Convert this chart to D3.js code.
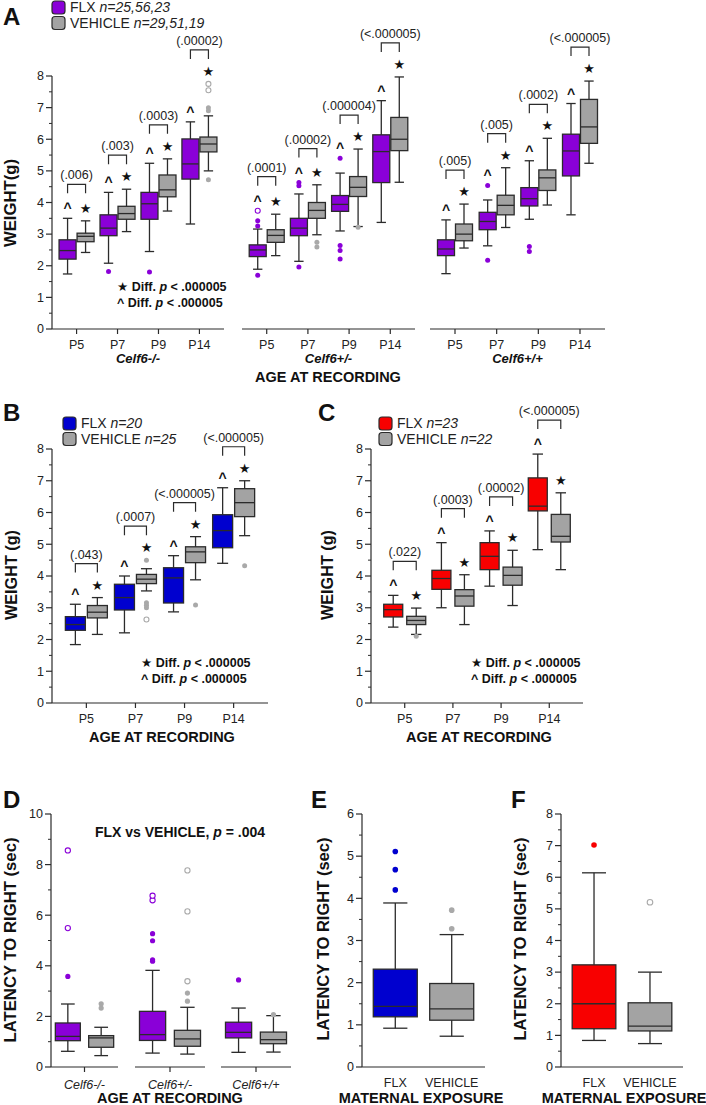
<!DOCTYPE html>
<html>
<head>
<meta charset="utf-8">
<script src="https://cdn.jsdelivr.net/npm/d3@7"></script>
<style>
  body { margin: 0; background: #fff; }
  svg { display: block; }
</style>
</head>
<body>
<svg id="fig" width="706" height="1105"></svg>
<script>
// ---- data ----
var ageLabels = ["P5", "P7", "P9", "P14"];
var genoLabels = ["Celf6-/-", "Celf6+/-", "Celf6+/+"];
var bracketLabelsA = [
    ["(.006)", "(.003)", "(.0003)", "(.00002)"],
    ["(.0001)", "(.00002)", "(.000004)", "(<.000005)"],
    ["(.005)", "(.005)", "(.0002)", "(<.000005)"]
];
// [low whisker, q1, median, q3, high whisker] per genotype, per age
var aFlx = [
    [[1.74, 2.21, 2.48, 2.82, 3.5], [2.08, 2.95, 3.19, 3.61, 4.32], [2.45, 3.47, 3.96, 4.32, 5.24], [3.32, 4.74, 5.22, 6.01, 6.55]],
    [[1.89, 2.29, 2.5, 2.66, 3.16], [2.14, 2.95, 3.19, 3.5, 4.27], [3.1, 3.72, 3.94, 4.22, 4.93], [3.37, 4.63, 5.61, 6.14, 7.22]],
    [[1.75, 2.32, 2.53, 2.82, 3.45], [2.63, 3.14, 3.4, 3.69, 4.08], [3.47, 3.89, 4.12, 4.47, 5.32], [3.61, 4.84, 5.63, 6.16, 7.13]]
];
var aVeh = [
    [[2.42, 2.76, 2.93, 3.03, 3.42], [3.08, 3.47, 3.65, 3.88, 4.42], [3.73, 4.18, 4.4, 4.87, 5.38], [5.0, 5.6, 5.85, 6.07, 6.74]],
    [[2.32, 2.74, 2.96, 3.14, 3.63], [2.98, 3.5, 3.75, 4.0, 4.56], [3.24, 4.19, 4.48, 4.82, 5.69], [4.64, 5.64, 6.0, 6.69, 7.97]],
    [[2.56, 2.79, 3.0, 3.32, 3.95], [3.21, 3.61, 3.91, 4.23, 5.1], [3.92, 4.38, 4.78, 5.03, 6.03], [5.24, 5.87, 6.39, 7.26, 7.84]]
];
// outliers: [genotype, age, group(0 flx / 1 vehicle), value, open]
var aOut = [
    [0, 1, 0, 1.82, 0], [0, 2, 0, 1.8, 0], [0, 3, 1, 4.72, 0], [0, 3, 1, 6.9, 0], [0, 3, 1, 7.0, 0], [0, 3, 1, 7.55, 1], [0, 3, 1, 7.75, 1],
    [1, 0, 0, 1.7, 0], [1, 0, 0, 3.26, 0], [1, 0, 0, 3.42, 0], [1, 0, 0, 3.74, 1], [1, 1, 0, 1.96, 0], [1, 1, 0, 4.53, 0], [1, 1, 0, 4.63, 0],
    [1, 1, 1, 2.59, 0], [1, 1, 1, 2.74, 0], [1, 2, 0, 2.21, 0], [1, 2, 0, 2.48, 0], [1, 2, 0, 2.64, 0], [1, 2, 0, 5.4, 0], [1, 2, 1, 3.22, 0],
    [2, 1, 0, 2.17, 0], [2, 1, 0, 4.54, 0], [2, 2, 0, 2.45, 0], [2, 2, 0, 2.61, 0]
];

var bracketLabelsB = ["(.043)", "(.0007)", "(<.000005)", "(<.000005)"];
var bFlx = [[1.84, 2.29, 2.47, 2.72, 3.11], [2.21, 2.93, 3.32, 3.74, 4.0], [2.87, 3.15, 3.94, 4.26, 4.64], [4.4, 4.89, 5.43, 5.93, 6.78]];
var bVeh = [[2.16, 2.68, 2.86, 3.07, 3.32], [3.53, 3.76, 3.9, 4.05, 4.23], [3.88, 4.42, 4.76, 4.92, 5.24], [5.27, 5.87, 6.31, 6.75, 7.0]];
// outliers: [age, group, value, open]
var bOut = [[1, 1, 4.5, 0], [1, 1, 3.16, 0], [1, 1, 3.08, 0], [1, 1, 3.0, 0], [1, 1, 2.63, 1], [2, 1, 3.09, 0], [3, 1, 4.32, 0]];

var bracketLabelsC = ["(.022)", "(.0003)", "(.00002)", "(<.000005)"];
var cFlx = [[2.39, 2.71, 2.94, 3.11, 3.39], [3.0, 3.58, 3.92, 4.18, 5.05], [3.68, 4.2, 4.62, 5.05, 5.42], [4.83, 6.05, 6.2, 7.09, 7.84]];
var cVeh = [[2.16, 2.47, 2.6, 2.73, 2.99], [2.47, 3.05, 3.37, 3.57, 4.04], [3.07, 3.71, 4.02, 4.28, 4.81], [4.2, 5.07, 5.25, 5.94, 6.62]];
var cOut = [[0, 1, 2.1, 0]];

var dFlx = [[0.62, 1.04, 1.21, 1.74, 2.49], [0.55, 1.05, 1.28, 2.2, 3.82], [0.58, 1.15, 1.37, 1.77, 2.33]];
var dVeh = [[0.45, 0.78, 1.15, 1.24, 1.57], [0.51, 0.82, 1.11, 1.45, 2.36], [0.59, 0.92, 1.08, 1.38, 2.03]];
// outliers: [genotype, group, value, open]
var dOut = [
    [0, 0, 3.58, 0], [0, 0, 5.49, 1], [0, 0, 8.56, 1], [0, 1, 2.33, 0], [0, 1, 2.5, 0],
    [1, 0, 4.18, 0], [1, 0, 4.24, 0], [1, 0, 4.99, 0], [1, 0, 5.27, 0], [1, 0, 6.59, 1], [1, 0, 6.77, 1],
    [1, 1, 2.6, 0], [1, 1, 2.92, 0], [1, 1, 3.39, 1], [1, 1, 6.15, 1], [1, 1, 7.77, 1],
    [2, 0, 3.44, 0], [2, 1, 2.07, 0]
];

var exposure = ["FLX", "VEHICLE"];
var eStats = [[0.92, 1.19, 1.44, 2.32, 3.89], [0.73, 1.11, 1.38, 1.98, 3.14]];
var eOut = [[0, 4.2, 0], [0, 4.68, 0], [0, 5.11, 0], [1, 3.28, 0], [1, 3.72, 0]];
var fStats = [[0.84, 1.21, 2.0, 3.23, 6.14], [0.74, 1.14, 1.29, 2.03, 3.0]];
var fOut = [[0, 7.02, 0], [1, 5.21, 1]];

// ---- style ----
var FONT = "'Liberation Sans', Arial, Helvetica, sans-serif";
var PURPLE = "#8a00d8";
var BLUE = "#0000cf";
var RED = "#f80000";
var GRAY = "#a3a3a3";
var GRAY_PT = "#a9a9a9";
var INK = "#2b2b2b";

var svg = d3.select("#fig");

function txt(g, x, y, s, size, opts) {
    opts = opts || {};
    var t = g.append("text").attr("x", x).attr("y", y)
        .attr("font-family", FONT).attr("font-size", size)
        .attr("fill", opts.fill || "#111")
        .attr("text-anchor", opts.anchor || "middle")
        .text(s);
    if (opts.bold) t.attr("font-weight", "bold");
    if (opts.italic) t.attr("font-style", "italic");
    return t;
}

function yAxis(g, y, x0, majors, minors, fmt) {
    var r = y.range();
    g.append("line").attr("x1", x0).attr("x2", x0).attr("y1", r[0]).attr("y2", r[1])
        .attr("stroke", INK).attr("stroke-width", 1.2);
    minors.forEach(function (v) {
        g.append("line").attr("x1", x0 - 3).attr("x2", x0).attr("y1", y(v)).attr("y2", y(v))
            .attr("stroke", INK).attr("stroke-width", 1);
    });
    majors.forEach(function (v) {
        g.append("line").attr("x1", x0 - 6).attr("x2", x0).attr("y1", y(v)).attr("y2", y(v))
            .attr("stroke", INK).attr("stroke-width", 1.2);
        txt(g, x0 - 8, y(v) + 4.3, fmt ? fmt(v) : v, 12.5, {anchor: "end", fill: "#222"});
    });
}

function yTitle(g, x, cy, s, len) {
    g.append("text").attr("transform", "translate(" + x + "," + cy + ") rotate(-90)")
        .attr("font-family", FONT).attr("font-size", 16.5).attr("font-weight", "bold")
        .attr("text-anchor", "middle").attr("textLength", len).attr("lengthAdjust", "spacingAndGlyphs")
        .attr("fill", "#111").text(s);
}

function box(g, y, cx, w, s, fill) {
    var cap = w * 0.55;
    var gg = g.append("g");
    gg.append("line").attr("x1", cx).attr("x2", cx).attr("y1", y(s[0])).attr("y2", y(s[4]))
        .attr("stroke", INK).attr("stroke-width", 1.3);
    [s[0], s[4]].forEach(function (v) {
        gg.append("line").attr("x1", cx - cap / 2).attr("x2", cx + cap / 2).attr("y1", y(v)).attr("y2", y(v))
            .attr("stroke", INK).attr("stroke-width", 1.3);
    });
    gg.append("rect").attr("x", cx - w / 2).attr("y", y(s[3])).attr("width", w)
        .attr("height", y(s[1]) - y(s[3])).attr("fill", fill)
        .attr("stroke", INK).attr("stroke-width", 1.3);
    gg.append("line").attr("x1", cx - w / 2).attr("x2", cx + w / 2).attr("y1", y(s[2])).attr("y2", y(s[2]))
        .attr("stroke", INK).attr("stroke-width", 1.3);
}

function dot(g, cx, cy, col, open, r) {
    g.append("circle").attr("cx", cx).attr("cy", cy).attr("r", r || 2.5)
        .attr("fill", open ? "#fff" : col).attr("stroke", col).attr("stroke-width", open ? 1.1 : 0);
}

// caret / star + bracket above a pair of boxes
function marks(g, y, xF, xV, topF, topV, label) {
    var yc = y(topF) - 13, ys = y(topV) - 13;
    txt(g, xF, yc + 8, "^", 14, {bold: true});
    g.append("text").attr("x", xV).attr("y", ys + 5).attr("text-anchor", "middle")
        .attr("font-family", "'DejaVu Sans', sans-serif").attr("font-size", 13).attr("fill", "#111").text("\u2605");
    var yb = Math.min(yc, ys) - 21;
    g.append("path").attr("d", "M" + xF + "," + (yb + 9) + "V" + yb + "H" + xV + "V" + (yb + 9))
        .attr("fill", "none").attr("stroke", INK).attr("stroke-width", 1.2);
    txt(g, (xF + xV) / 2, yb - 5, label, 12.5, {fill: "#222"});
}

function topOf(stats, outs) {
    return d3.max([stats[4]].concat(outs));
}

function diffNote(g, x, y0) {
    [["\u2605", y0], ["^", y0 + 16]].forEach(function (d, i) {
        var t = g.append("text").attr("x", x).attr("y", d[1]).attr("font-family", FONT)
            .attr("font-size", 12.5).attr("font-weight", "bold").attr("fill", "#111");
        if (i === 0) t.append("tspan").attr("font-family", "'DejaVu Sans', sans-serif").text(d[0]);
        else t.append("tspan").text(d[0]);
        t.append("tspan").text(" Diff. ");
        t.append("tspan").attr("font-style", "italic").text("p");
        t.append("tspan").text(" < .000005");
    });
}

function legend(g, x, y, col, label, n) {
    [[col, label[0], n[0]], [GRAY, label[1], n[1]]].forEach(function (d, i) {
        var yy = y + i * 15.5;
        g.append("rect").attr("x", x).attr("y", yy).attr("width", 13).attr("height", 13).attr("rx", 3)
            .attr("fill", d[0]).attr("stroke", INK).attr("stroke-width", 1.2);
        var t = g.append("text").attr("x", x + 18).attr("y", yy + 11).attr("font-family", FONT)
            .attr("font-size", 14).attr("fill", "#222");
        t.append("tspan").text(d[1] + " ");
        t.append("tspan").attr("font-style", "italic").text(d[2]);
    });
}

function panelLetter(x, y, s) {
    txt(svg, x, y, s, 24, {bold: true, anchor: "start"});
}

var halfTicks = d3.range(0, 8.01, 0.5).filter(function (v) { return v % 1 !== 0; });

// ================= Panel A =================
(function () {
    var g = svg.append("g");
    var y = d3.scaleLinear().domain([0, 8]).range([329, 76]);
    var x0 = 52;
    var groups = [[52, 224], [242, 415], [430, 605]];
    var half = 9;

    panelLetter(3, 25, "A");
    legend(g, 52, 1, PURPLE, ["FLX", "VEHICLE"], ["n=25,56,23", "n=29,51,19"]);
    yAxis(g, y, x0, d3.range(0, 9), halfTicks);
    yTitle(g, 16, 203, "WEIGHT(g)", 88);

    groups.forEach(function (rng, gi) {
        var x = d3.scalePoint().domain(ageLabels).range(rng).padding(0.6);
        g.append("line").attr("x1", rng[0]).attr("x2", rng[1]).attr("y1", 329).attr("y2", 329)
            .attr("stroke", INK).attr("stroke-width", 1.2);
        ageLabels.forEach(function (a, ai) {
            var cx = x(a);
            g.append("line").attr("x1", cx).attr("x2", cx).attr("y1", 329).attr("y2", 334)
                .attr("stroke", INK).attr("stroke-width", 1.2);
            txt(g, cx, 349, a, 12.5, {fill: "#222"});
            var outs = aOut.filter(function (o) { return o[0] === gi && o[1] === ai; });
            var xf = cx - half, xv = cx + half;
            box(g, y, xf, 17, aFlx[gi][ai], PURPLE);
            box(g, y, xv, 17, aVeh[gi][ai], GRAY);
            outs.forEach(function (o) {
                dot(g, o[2] ? xv : xf, y(o[3]), o[2] ? GRAY_PT : PURPLE, o[4]);
            });
            marks(g, y, xf, xv,
                topOf(aFlx[gi][ai], outs.filter(function (o) { return o[2] === 0; }).map(function (o) { return o[3]; })),
                topOf(aVeh[gi][ai], outs.filter(function (o) { return o[2] === 1; }).map(function (o) { return o[3]; })),
                bracketLabelsA[gi][ai]);
        });
        txt(g, (x(ageLabels[0]) + x(ageLabels[3])) / 2, 363, genoLabels[gi], 13, {bold: true, italic: true});
    });
    txt(g, 328, 382, "AGE AT RECORDING", 14.5, {bold: true});
    diffNote(g, 117, 291);
})();

// ================= Panels B and C =================
function weightPanel(opt) {
    var g = svg.append("g");
    var y = d3.scaleLinear().domain([0, 8]).range([703, 449]);
    var x = d3.scalePoint().domain(ageLabels).range(opt.range).padding(0.7);
    panelLetter(opt.letterX, 421, opt.letter);
    legend(g, opt.legX, 417, opt.col, ["FLX", "VEHICLE"], opt.n);
    yAxis(g, y, opt.range[0], d3.range(0, 9), halfTicks);
    yTitle(g, opt.titleX, 575, "WEIGHT (g)", 90);
    g.append("line").attr("x1", opt.range[0]).attr("x2", opt.range[1]).attr("y1", 703).attr("y2", 703)
        .attr("stroke", INK).attr("stroke-width", 1.2);
    ageLabels.forEach(function (a, ai) {
        var cx = x(a);
        g.append("line").attr("x1", cx).attr("x2", cx).attr("y1", 703).attr("y2", 708)
            .attr("stroke", INK).attr("stroke-width", 1.2);
        txt(g, cx, 723, a, 12.5, {fill: "#222"});
        var outs = opt.outs.filter(function (o) { return o[0] === ai; });
        var xf = cx - opt.half, xv = cx + opt.half;
        box(g, y, xf, opt.w, opt.flx[ai], opt.col);
        box(g, y, xv, opt.w, opt.veh[ai], GRAY);
        outs.forEach(function (o) {
            dot(g, o[1] ? xv : xf, y(o[2]), o[1] ? GRAY_PT : opt.col, o[3]);
        });
        marks(g, y, xf, xv,
            topOf(opt.flx[ai], outs.filter(function (o) { return o[1] === 0; }).map(function (o) { return o[2]; })),
            topOf(opt.veh[ai], outs.filter(function (o) { return o[1] === 1; }).map(function (o) { return o[2]; })),
            opt.labels[ai]);
    });
    txt(g, (opt.range[0] + opt.range[1]) / 2 + 2, 742, "AGE AT RECORDING", 14.5, {bold: true});
    diffNote(g, opt.noteX, 667);
}

weightPanel({letter: "B", letterX: 3, range: [52, 268], legX: 63, col: BLUE, n: ["n=20", "n=25"],
    titleX: 17, w: 20, half: 11, flx: bFlx, veh: bVeh, outs: bOut, labels: bracketLabelsB, noteX: 141});
weightPanel({letter: "C", letterX: 318, range: [371, 583], legX: 379, col: RED, n: ["n=23", "n=22"],
    titleX: 333, w: 19, half: 11.5, flx: cFlx, veh: cVeh, outs: cOut, labels: bracketLabelsC, noteX: 471});

// ================= Panel D =================
(function () {
    var g = svg.append("g");
    var y = d3.scaleLinear().domain([0, 10]).range([1067, 814]);
    var segs = [[51, 118], [135, 205], [221, 291]];
    panelLetter(3, 808, "D");
    yAxis(g, y, 51, [0, 2, 4, 6, 8, 10], [1, 3, 5, 7, 9]);
    yTitle(g, 16, 940, "LATENCY TO RIGHT (sec)", 205);
    var t = g.append("text").attr("x", 180).attr("y", 837).attr("text-anchor", "middle")
        .attr("font-family", FONT).attr("font-size", 14).attr("font-weight", "bold").attr("fill", "#111");
    t.append("tspan").text("FLX vs VEHICLE, ");
    t.append("tspan").attr("font-style", "italic").text("p");
    t.append("tspan").text(" = .004");
    segs.forEach(function (s, gi) {
        var x = d3.scaleBand().domain(["FLX", "VEHICLE"]).range([s[0] + 1, s[1] - 1]).paddingInner(0.25).paddingOuter(0.1);
        var mid = (x("FLX") + x("VEHICLE") + x.bandwidth()) / 2;
        g.append("line").attr("x1", s[0]).attr("x2", s[1]).attr("y1", 1067).attr("y2", 1067)
            .attr("stroke", INK).attr("stroke-width", 1.2);
        g.append("line").attr("x1", mid).attr("x2", mid).attr("y1", 1067).attr("y2", 1072)
            .attr("stroke", INK).attr("stroke-width", 1.2);
        txt(g, mid, 1089, genoLabels[gi], 12.5, {italic: true, fill: "#222"});
        var xf = x("FLX") + x.bandwidth() / 2, xv = x("VEHICLE") + x.bandwidth() / 2;
        box(g, y, xf, x.bandwidth(), dFlx[gi], PURPLE);
        box(g, y, xv, x.bandwidth(), dVeh[gi], GRAY);
        dOut.filter(function (o) { return o[0] === gi; }).forEach(function (o) {
            dot(g, o[1] ? xv : xf, y(o[2]), o[1] ? GRAY_PT : PURPLE, o[3], 2.6);
        });
    });
    txt(g, 170, 1103, "AGE AT RECORDING", 14.5, {bold: true});
})();

// ================= Panels E and F =================
function latencyPanel(opt) {
    var g = svg.append("g");
    var y = d3.scaleLinear().domain([0, opt.max]).range([1067, 814]);
    var x = d3.scaleBand().domain(exposure).range(opt.range).paddingInner(0.22).paddingOuter(0.2);
    panelLetter(opt.letterX, 808, opt.letter);
    var majors = d3.range(0, opt.max + 1);
    var minors = d3.range(0.5, opt.max, 1);
    yAxis(g, y, opt.range[0], majors, minors);
    yTitle(g, opt.titleX, 939, "LATENCY TO RIGHT (sec)", 203);
    g.append("line").attr("x1", opt.range[0]).attr("x2", opt.range[1]).attr("y1", 1067).attr("y2", 1067)
        .attr("stroke", INK).attr("stroke-width", 1.2);
    exposure.forEach(function (e, i) {
        var cx = x(e) + x.bandwidth() / 2;
        txt(g, cx, 1087, e, 12.5, {fill: "#222"});
        box(g, y, cx, x.bandwidth(), opt.stats[i], i ? GRAY : opt.col);
        opt.outs.filter(function (o) { return o[0] === i; }).forEach(function (o) {
            dot(g, cx, y(o[1]), i ? GRAY_PT : opt.col, o[2], 2.8);
        });
    });
    txt(g, opt.noteX, 1103, "MATERNAL EXPOSURE", 14.5, {bold: true});
}

latencyPanel({letter: "E", letterX: 311, max: 6, range: [362, 485], col: BLUE, stats: eStats, outs: eOut,
    titleX: 329, noteX: 421});
latencyPanel({letter: "F", letterX: 511, max: 8, range: [561, 683], col: RED, stats: fStats, outs: fOut,
    titleX: 526, noteX: 624});
</script>
</body>
</html>
